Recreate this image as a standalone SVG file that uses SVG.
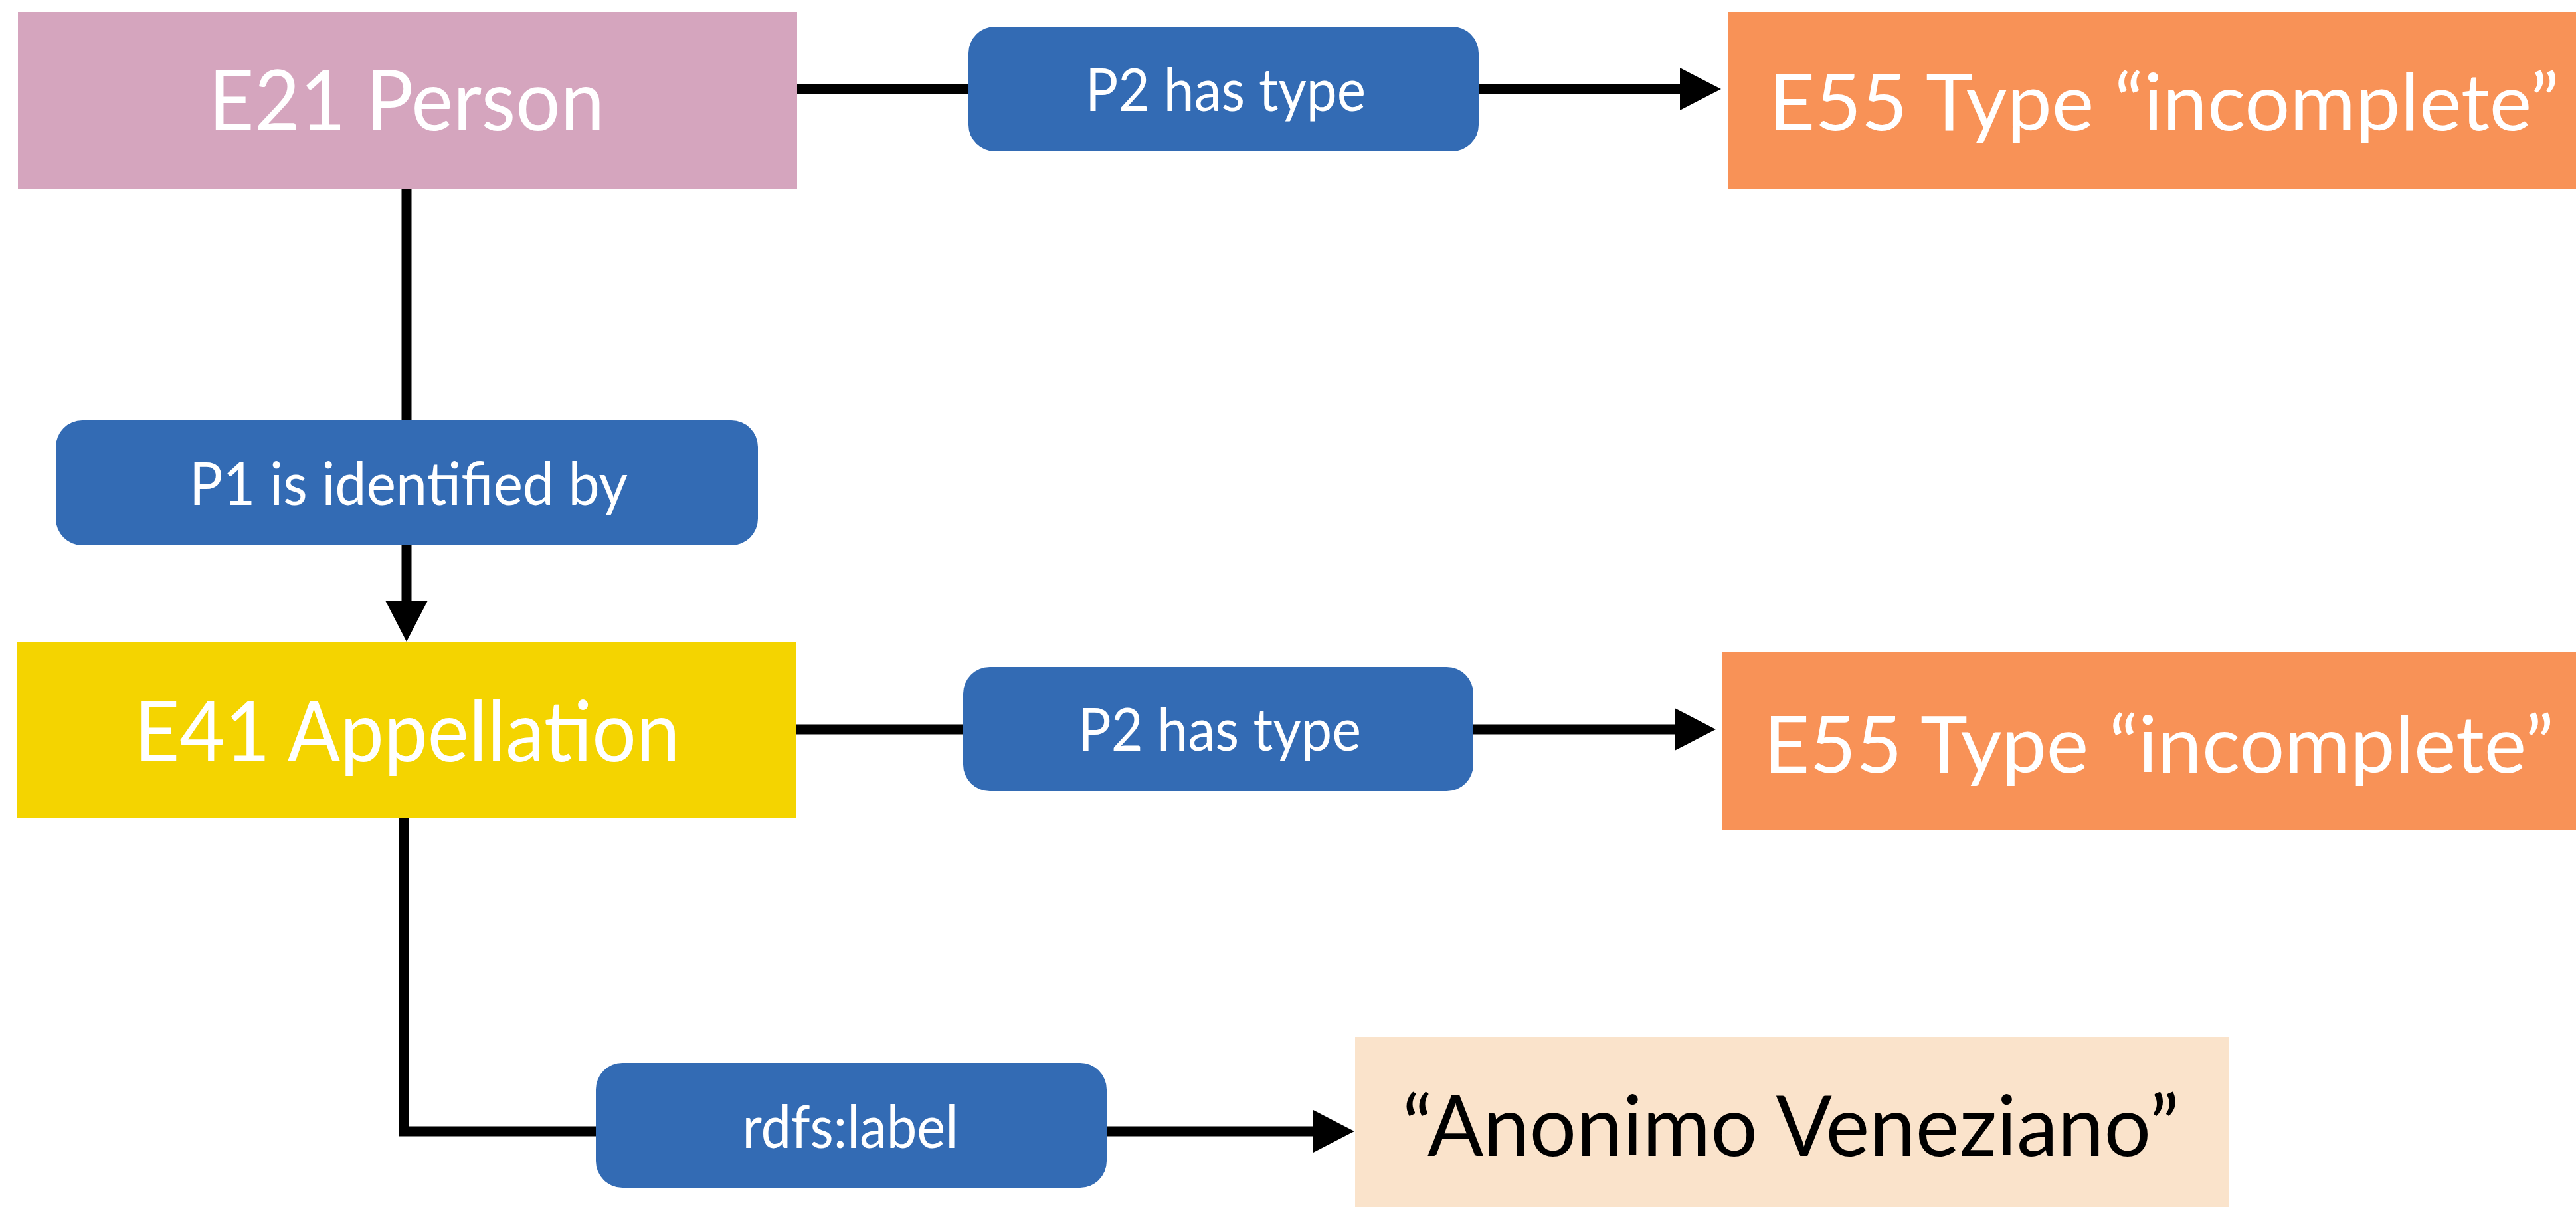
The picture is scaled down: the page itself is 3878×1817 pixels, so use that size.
<svg xmlns="http://www.w3.org/2000/svg" width="3878" height="1817" viewBox="0 0 3878 1817">
  <style>
    .big { font-family: Lato, "Liberation Sans", sans-serif; font-size: 126px; fill: #ffffff; text-anchor: middle; }
    .type { font-size: 119px; }
    .small { font-family: Lato, "Liberation Sans", sans-serif; font-size: 89px; fill: #ffffff; text-anchor: middle; }
    .lit { fill: #000000; }
    .edge { fill: none; stroke: #000000; stroke-width: 15; stroke-linejoin: miter; }
    .prop { fill: #336BB4; }
  </style>
  <defs>
    <marker id="arrow" markerUnits="userSpaceOnUse" markerWidth="64" markerHeight="66" viewBox="0 -33 64 66" refX="0" refY="0" orient="auto" overflow="visible">
      <path d="M0,-32 L62,0 L0,32 Z" fill="#000000"/>
    </marker>
  </defs>
  <rect width="3878" height="1817" fill="#ffffff"/>

  <g id="connectors">
    <line class="edge" x1="612" y1="284" x2="612" y2="904" marker-end="url(#arrow)"/>
    <line class="edge" x1="1200" y1="134" x2="2529" y2="134" marker-end="url(#arrow)"/>
    <line class="edge" x1="1198" y1="1098" x2="2521" y2="1098" marker-end="url(#arrow)"/>
    <path class="edge" d="M608,1232 V1703 H1977" marker-end="url(#arrow)"/>
  </g>

  <g id="e21-person">
    <rect x="27" y="18" width="1173" height="266" fill="#D5A5BE"/>
    <text class="big" x="612" y="196" textLength="596" lengthAdjust="spacingAndGlyphs">E21 Person</text>
  </g>

  <g id="p2-has-type-1">
    <rect class="prop" x="1458" y="40" width="768" height="188" rx="40" ry="40"/>
    <text class="small" x="1845" y="167" textLength="422" lengthAdjust="spacingAndGlyphs">P2 has type</text>
  </g>

  <g id="e55-type-1">
    <rect x="2602" y="18" width="1320" height="266" fill="#F89257"/>
    <text class="big type" x="3258" y="196" textLength="1190" lengthAdjust="spacingAndGlyphs">E55 Type “incomplete”</text>
  </g>

  <g id="p1-is-identified-by">
    <rect class="prop" x="84" y="633" width="1057" height="188" rx="40" ry="40"/>
    <text class="small" x="615" y="760" textLength="660" lengthAdjust="spacingAndGlyphs">P1 is identified by</text>
  </g>

  <g id="e41-appellation">
    <rect x="25" y="966" width="1173" height="266" fill="#F4D400"/>
    <text class="big" x="613" y="1146" textLength="821" lengthAdjust="spacingAndGlyphs">E41 Appellation</text>
  </g>

  <g id="p2-has-type-2">
    <rect class="prop" x="1450" y="1004" width="768" height="187" rx="40" ry="40"/>
    <text class="small" x="1836" y="1130" textLength="426" lengthAdjust="spacingAndGlyphs">P2 has type</text>
  </g>

  <g id="e55-type-2">
    <rect x="2593" y="982" width="1320" height="267" fill="#F89257"/>
    <text class="big type" x="3250" y="1163" textLength="1190" lengthAdjust="spacingAndGlyphs">E55 Type “incomplete”</text>
  </g>

  <g id="rdfs-label">
    <rect class="prop" x="897" y="1600" width="769" height="188" rx="40" ry="40"/>
    <text class="small" x="1280" y="1728" textLength="325" lengthAdjust="spacingAndGlyphs">rdfs:label</text>
  </g>

  <g id="literal-anonimo-veneziano">
    <rect x="2040" y="1561" width="1316" height="280" fill="#FAE3CB"/>
    <text class="big lit" x="2696" y="1740" textLength="1170" lengthAdjust="spacingAndGlyphs">“Anonimo Veneziano”</text>
  </g>
</svg>
